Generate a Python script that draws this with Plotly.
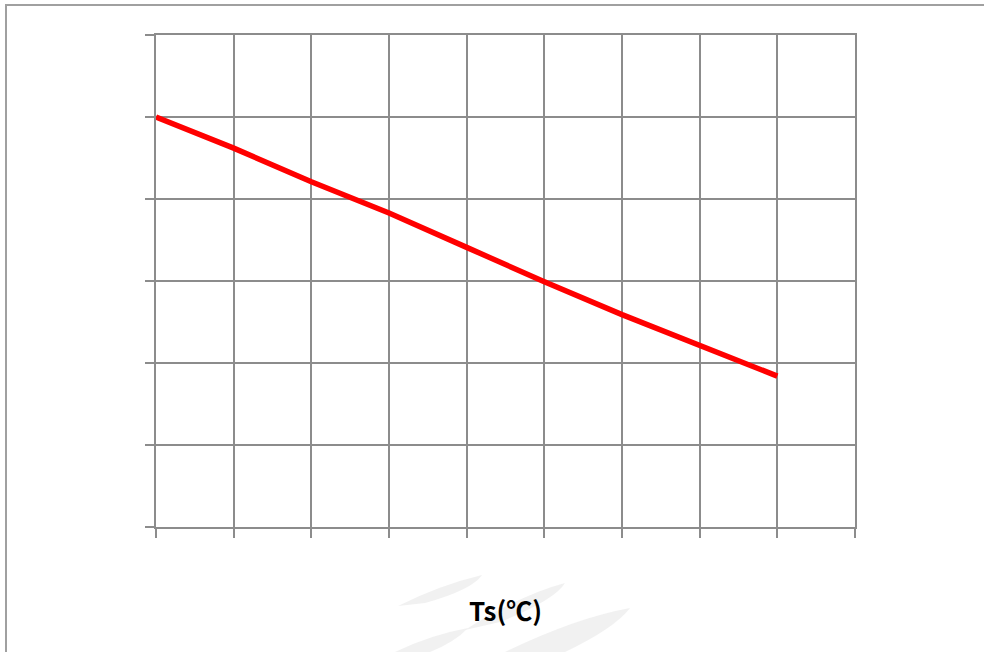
import plotly.graph_objects as go

# Data (grid units)
ts_steps = [0, 1, 2, 3, 4, 5, 6, 7, 8]
values = [5.00, 4.62, 4.21, 3.83, 3.41, 2.99, 2.59, 2.21, 1.84]
x_range = [0, 9]
y_range = [0, 6]
x_title = "Ts(℃)"

W, H = 984, 652
L, R, T, B = 156, 129, 35, 125
pw, ph = W - L - R, H - T - B

def px(xp):
    return (xp - L) / pw

def py(yp):
    return (H - B - yp) / ph

fig = go.Figure()
fig.add_trace(go.Scatter(
    x=ts_steps, y=values, mode="lines",
    line=dict(color="#ff0000", width=5.5),
    hoverinfo="skip", showlegend=False,
))

grid = "#8c8c8c"
axis_common = dict(
    showgrid=True, gridcolor=grid, gridwidth=1.5,
    showline=True, linecolor=grid, linewidth=1.5, mirror=True,
    ticks="outside", ticklen=9, tickcolor=grid, tickwidth=1.5,
    showticklabels=False, zeroline=False, dtick=1,
)
fig.update_xaxes(range=x_range, **axis_common)
fig.update_yaxes(range=y_range, **axis_common)

def conv(path):
    toks = path.split()
    out = []
    i = 0
    while i < len(toks):
        t = toks[i]
        if t in ("M", "Q", "L", "Z"):
            out.append(t)
            i += 1
        else:
            xv = float(toks[i]); yv = float(toks[i + 1])
            out.append(f"{px(xv):.4f},{py(yv):.4f}")
            i += 2
    return " ".join(out)

shapes = [
    dict(type="rect", xref="paper", yref="paper",
         x0=px(6), x1=px(1000), y0=py(5), y1=py(670),
         line=dict(color="#a0a0a0", width=2), fillcolor="rgba(0,0,0,0)", layer="below"),
]
wm = "rgba(215,215,215,0.35)"
for path in [
    "M 398 606 Q 440 585 482 575 Q 472 590 425 603 Z",
    "M 465 630 Q 520 595 565 583 Q 555 600 500 622 Z",
    "M 505 652 Q 575 618 630 608 Q 615 628 565 652 Z",
    "M 395 652 Q 430 635 468 628 Q 455 642 430 652 Z",
]:
    shapes.append(dict(type="path", xref="paper", yref="paper", path=conv(path),
                       fillcolor=wm, line=dict(width=0), layer="below"))

fig.update_layout(
    width=W, height=H,
    margin=dict(l=L, r=R, t=T, b=B),
    paper_bgcolor="white", plot_bgcolor="white",
    shapes=shapes,
    annotations=[dict(
        text=f"<b>{x_title}</b>", xref="paper", yref="paper",
        x=0.5, y=py(609), xanchor="center", yanchor="middle",
        showarrow=False, font=dict(family="Noto Sans CJK KR, DejaVu Sans", size=26, color="black"),
    )],
)

fig.write_html("out.html", config={"displayModeBar": False},
               post_script="document.body.style.margin='0';document.body.style.overflow='hidden';")
